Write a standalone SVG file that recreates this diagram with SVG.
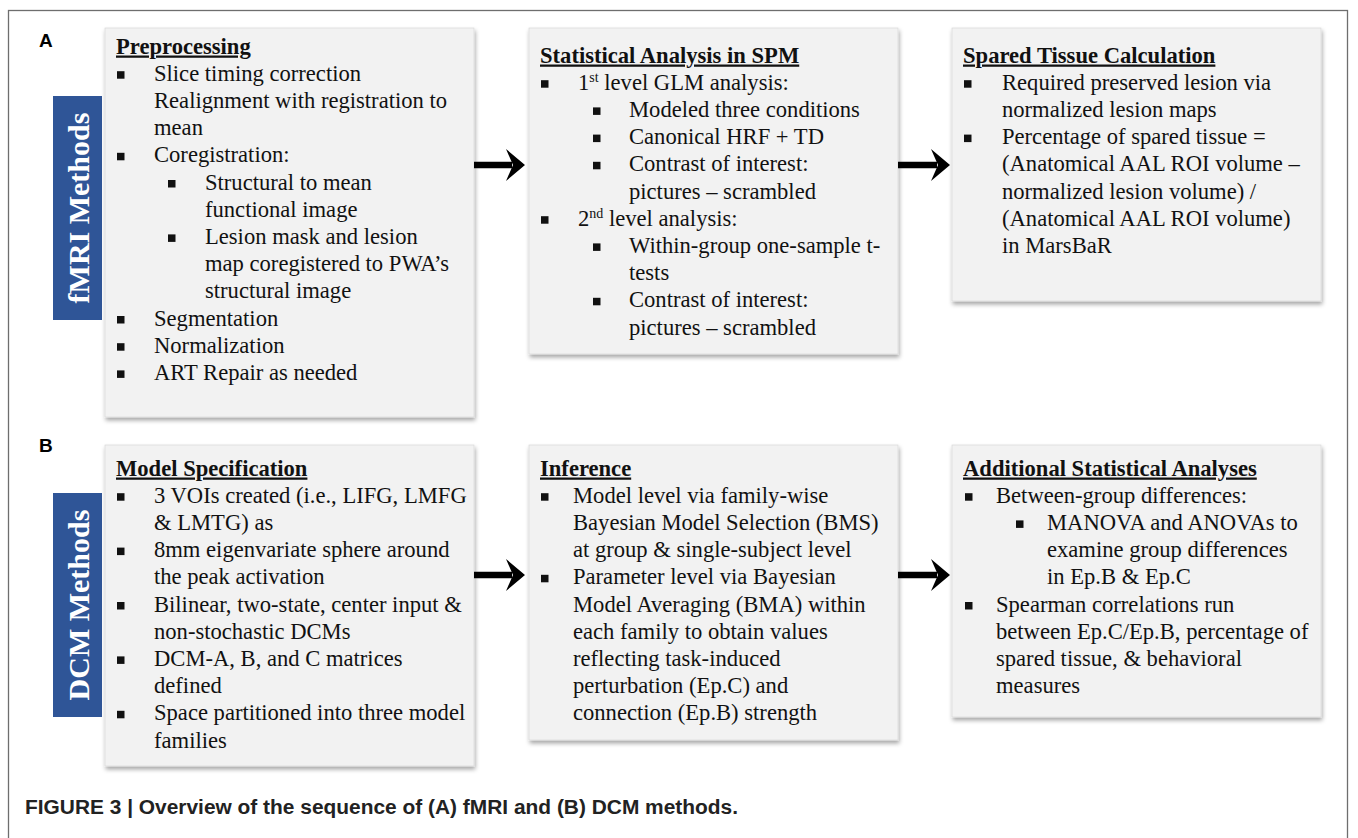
<svg xmlns="http://www.w3.org/2000/svg" width="1358" height="838" viewBox="0 0 1358 838">
<defs>
<filter id="sh" x="-5%" y="-5%" width="112%" height="112%">
<feDropShadow dx="1" dy="3" stdDeviation="2" flood-color="#000" flood-opacity="0.35"/>
</filter>
<marker id="ah" markerUnits="userSpaceOnUse" markerWidth="20" markerHeight="34" refX="6" refY="16" orient="auto" viewBox="0 0 20 34">
<path d="M0,0 L19,16 L0,32 L7,16 Z" fill="#000"/>
</marker>
</defs>
<style>
.box{fill:#F2F2F2;stroke:#dcdcdc;stroke-width:0.8;filter:url(#sh)}
.t{font-family:"Liberation Serif","Times New Roman",serif;font-size:22.6px;fill:#111}
.h{font-family:"Liberation Serif","Times New Roman",serif;font-size:22.6px;font-weight:bold;fill:#111;text-decoration:underline}
.b{fill:#111}
.lab{fill:#2F5597}
.lt{font-family:"Liberation Serif","Times New Roman",serif;font-size:30px;font-weight:bold;fill:#fff;text-anchor:middle}
.pl{font-family:"Liberation Sans",Arial,sans-serif;font-size:19px;font-weight:bold;fill:#000}
.sup{font-size:14px}
.conn{stroke:#000;stroke-width:6.5;fill:none;marker-end:url(#ah)}
</style>
<rect x="0" y="0" width="1358" height="838" fill="#fff"/>
<rect x="8.5" y="10.5" width="1339" height="840" fill="none" stroke="#6e6e6e" stroke-width="1.3"/>
<text class="pl" x="39" y="47">A</text>
<text class="pl" x="39" y="452">B</text>

<g id="label-fmri">
<rect class="lab" x="53" y="96" width="49" height="224"/>
<text class="lt" transform="translate(89,208) rotate(-90)">fMRI Methods</text>
</g>
<g id="label-dcm">
<rect class="lab" x="53" y="493" width="49" height="224"/>
<text class="lt" transform="translate(89,605) rotate(-90)">DCM Methods</text>
</g>

<g id="preprocessing">
<rect class="box" x="105" y="28" width="369" height="389"/>
<text class="h" x="116" y="53.5">Preprocessing</text>
<g class="t">
<text x="154" y="80.7">Slice timing correction</text>
<text x="154" y="107.9">Realignment with registration to</text>
<text x="154" y="135.1">mean</text>
<text x="154" y="162.3">Coregistration:</text>
<text x="205" y="189.5">Structural to mean</text>
<text x="205" y="216.7">functional image</text>
<text x="205" y="243.9">Lesion mask and lesion</text>
<text x="205" y="271.1">map coregistered to PWA’s</text>
<text x="205" y="298.3">structural image</text>
<text x="154" y="325.5">Segmentation</text>
<text x="154" y="352.7">Normalization</text>
<text x="154" y="379.9">ART Repair as needed</text>
</g>
<g class="b">
<rect x="117" y="71.2" width="7.5" height="7.5"/>
<rect x="117" y="152.8" width="7.5" height="7.5"/>
<rect x="168" y="180" width="7.5" height="7.5"/>
<rect x="168" y="234.4" width="7.5" height="7.5"/>
<rect x="117" y="316" width="7.5" height="7.5"/>
<rect x="117" y="343.2" width="7.5" height="7.5"/>
<rect x="117" y="370.4" width="7.5" height="7.5"/>
</g>
</g>

<g id="statistical-analysis">
<rect class="box" x="529" y="28" width="369" height="326"/>
<text class="h" x="540" y="62.5">Statistical Analysis in SPM</text>
<g class="t">
<text x="578" y="89.7">1<tspan class="sup" dy="-8">st</tspan><tspan dy="8"> level GLM analysis:</tspan></text>
<text x="629" y="116.9">Modeled three conditions</text>
<text x="629" y="144.1">Canonical HRF + TD</text>
<text x="629" y="171.3">Contrast of interest:</text>
<text x="629" y="198.5">pictures – scrambled</text>
<text x="578" y="225.7">2<tspan class="sup" dy="-8">nd</tspan><tspan dy="8"> level analysis:</tspan></text>
<text x="629" y="252.9">Within-group one-sample t-</text>
<text x="629" y="280.1">tests</text>
<text x="629" y="307.3">Contrast of interest:</text>
<text x="629" y="334.5">pictures – scrambled</text>
</g>
<g class="b">
<rect x="541" y="80.2" width="7.5" height="7.5"/>
<rect x="593" y="107.4" width="7.5" height="7.5"/>
<rect x="593" y="134.6" width="7.5" height="7.5"/>
<rect x="593" y="161.8" width="7.5" height="7.5"/>
<rect x="541" y="216.2" width="7.5" height="7.5"/>
<rect x="593" y="243.4" width="7.5" height="7.5"/>
<rect x="593" y="297.8" width="7.5" height="7.5"/>
</g>
</g>

<g id="spared-tissue">
<rect class="box" x="952" y="28" width="369" height="273"/>
<text class="h" x="963" y="62.5">Spared Tissue Calculation</text>
<g class="t">
<text x="1002" y="89.7">Required preserved lesion via</text>
<text x="1002" y="116.9">normalized lesion maps</text>
<text x="1002" y="144.1">Percentage of spared tissue =</text>
<text x="1002" y="171.3">(Anatomical AAL ROI volume –</text>
<text x="1002" y="198.5">normalized lesion volume) /</text>
<text x="1002" y="225.7">(Anatomical AAL ROI volume)</text>
<text x="1002" y="252.9">in MarsBaR</text>
</g>
<g class="b">
<rect x="964" y="80.2" width="7.5" height="7.5"/>
<rect x="964" y="134.6" width="7.5" height="7.5"/>
</g>
</g>

<g id="model-specification">
<rect class="box" x="105" y="445" width="369" height="321"/>
<text class="h" x="116" y="475.5">Model Specification</text>
<g class="t">
<text x="154" y="502.7">3 VOIs created (i.e., LIFG, LMFG</text>
<text x="154" y="529.9">&amp; LMTG) as</text>
<text x="154" y="557.1">8mm eigenvariate sphere around</text>
<text x="154" y="584.3">the peak activation</text>
<text x="154" y="611.5">Bilinear, two-state, center input &amp;</text>
<text x="154" y="638.7">non-stochastic DCMs</text>
<text x="154" y="665.9">DCM-A, B, and C matrices</text>
<text x="154" y="693.1">defined</text>
<text x="154" y="720.3">Space partitioned into three model</text>
<text x="154" y="747.5">families</text>
</g>
<g class="b">
<rect x="117" y="493.2" width="7.5" height="7.5"/>
<rect x="117" y="547.6" width="7.5" height="7.5"/>
<rect x="117" y="602" width="7.5" height="7.5"/>
<rect x="117" y="656.4" width="7.5" height="7.5"/>
<rect x="117" y="710.8" width="7.5" height="7.5"/>
</g>
</g>

<g id="inference">
<rect class="box" x="529" y="445" width="369" height="295"/>
<text class="h" x="540" y="475.5">Inference</text>
<g class="t">
<text x="573" y="502.7">Model level via family-wise</text>
<text x="573" y="529.9">Bayesian Model Selection (BMS)</text>
<text x="573" y="557.1">at group &amp; single-subject level</text>
<text x="573" y="584.3">Parameter level via Bayesian</text>
<text x="573" y="611.5">Model Averaging (BMA) within</text>
<text x="573" y="638.7">each family to obtain values</text>
<text x="573" y="665.9">reflecting task-induced</text>
<text x="573" y="693.1">perturbation (Ep.C) and</text>
<text x="573" y="720.3">connection (Ep.B) strength</text>
</g>
<g class="b">
<rect x="541" y="493.2" width="7.5" height="7.5"/>
<rect x="541" y="574.8" width="7.5" height="7.5"/>
</g>
</g>

<g id="additional-analyses">
<rect class="box" x="952" y="445" width="369" height="272"/>
<text class="h" x="963" y="475.5">Additional Statistical Analyses</text>
<g class="t">
<text x="996" y="502.7">Between-group differences:</text>
<text x="1047" y="529.9">MANOVA and ANOVAs to</text>
<text x="1047" y="557.1">examine group differences</text>
<text x="1047" y="584.3">in Ep.B &amp; Ep.C</text>
<text x="996" y="611.5">Spearman correlations run</text>
<text x="996" y="638.7">between Ep.C/Ep.B, percentage of</text>
<text x="996" y="665.9">spared tissue, &amp; behavioral</text>
<text x="996" y="693.1">measures</text>
</g>
<g class="b">
<rect x="965" y="493.2" width="7.5" height="7.5"/>
<rect x="1016" y="520.4" width="7.5" height="7.5"/>
<rect x="965" y="602" width="7.5" height="7.5"/>
</g>
</g>

<g id="connectors">
<line class="conn" x1="474" y1="165" x2="512" y2="165"/>
<line class="conn" x1="898" y1="165" x2="937" y2="165"/>
<line class="conn" x1="474" y1="575" x2="512" y2="575"/>
<line class="conn" x1="898" y1="575" x2="937" y2="575"/>
</g>

<text x="25" y="814" font-family="'Liberation Sans',Arial,sans-serif" font-size="19.5" font-weight="bold" fill="#222" textLength="713" lengthAdjust="spacingAndGlyphs">FIGURE 3 | Overview of the sequence of (A) fMRI and (B) DCM methods.</text>
</svg>
